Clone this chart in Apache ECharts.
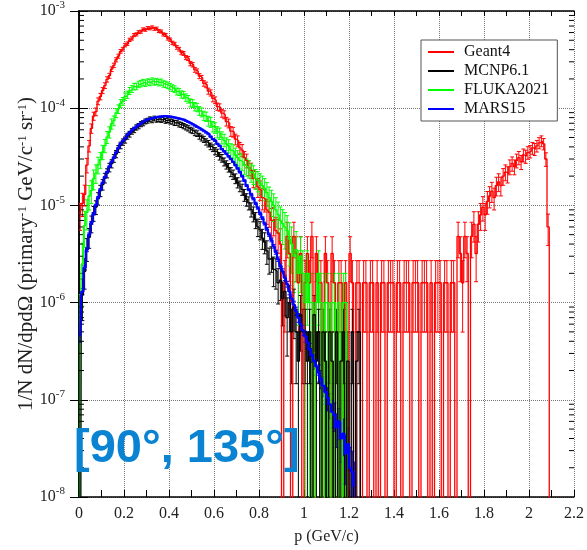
<!DOCTYPE html>
<html>
<head>
<meta charset="utf-8">
<script src="https://cdn.jsdelivr.net/npm/echarts@6/dist/echarts.min.js"></script>
<style>
html, body { margin: 0; padding: 0; background: #fff; }
#main { width: 587px; height: 550px; }
</style>
</head>
<body>
<div id="main"></div>
<script>
// spectra, in units of 1e-6, bins of 0.01 GeV/c starting at p = 0
var geant4 = [
  8, 10.5, 13, 26, 41, 62, 83, 92, 118, 132,
  152, 171, 198, 216, 252, 276, 315, 343, 385, 405,
  446, 462, 505, 522, 566, 575, 606, 612, 648, 641,
  668, 662, 680, 655, 660, 622, 615, 575, 566, 522,
  508, 470, 458, 422, 405, 372, 366, 332, 325, 288,
  280, 248, 240, 214, 205, 180, 174, 150, 144, 126,
  121, 104, 102, 89, 86, 73, 70, 58, 57, 48,
  46, 39, 37, 31, 29, 24.5, 23, 19, 18.5, 15.5,
  14.5, 12, 11.5, 9, 8.5, 7, 7.2, 5.5, 5.2, 4,
  0, 1.6, 4.8, 3.2, 0, 4.8, 3.2, 1.6, 3.2, 0,
  1.6, 3.2, 1.6, 4.8, 0, 3.2, 1.6, 1.6, 0, 3.2,
  1.6, 0, 3.2, 1.6, 0, 1.6, 1.6, 0, 1.6, 0,
  3.2, 1.6, 0, 1.6, 1.6, 0, 1.6, 1.6, 0, 1.6,
  1.6, 0, 1.6, 0, 1.6, 1.6, 0, 1.6, 1.6, 1.6,
  0, 1.6, 1.6, 0, 1.6, 1.6, 1.6, 0, 1.6, 1.6,
  1.6, 0, 1.6, 1.6, 1.6, 0, 1.6, 0, 1.6, 1.6,
  1.6, 0, 1.6, 1.6, 0, 1.6, 1.6, 0, 4.8, 3.2,
  1.6, 4.8, 3.2, 0, 4.8, 6.4, 3.2, 6.4, 8, 9.6,
  8, 11, 12.5, 14, 12, 16, 17.5, 16, 20, 22,
  21, 25, 27, 25, 29, 31, 28, 33, 32, 35,
  36, 39, 38, 41, 44, 46, 43, 30, 6, 0
];
var mcnp = [
  0, 1.2, 2.1, 3.6, 4.7, 6.5, 8.3, 9.6, 11.8, 14.2,
  16.4, 19.2, 21.5, 24.6, 26.9, 30.5, 33.8, 38.2, 41.5, 44.9,
  47.2, 51.6, 54.1, 57.8, 59.9, 63.5, 65.4, 68.6, 70.1, 73.2,
  74.5, 77, 75.2, 78.4, 76.1, 77.5, 75.8, 76.9, 74.2, 75.6,
  73.1, 72.8, 70.5, 70.9, 68.2, 67.4, 65.5, 63.7, 62.1, 59.8,
  58.6, 55.9, 54.8, 51.6, 49.5, 47.9, 45.1, 43.2, 40.6, 38.9,
  36.2, 34.9, 32.1, 30.6, 28.1, 26.2, 24.5, 22.1, 20.8, 18.9,
  17.2, 15.8, 14.6, 12.8, 11.5, 10.6, 9.1, 8.2, 7.1, 6.0,
  5.6, 4.6, 4.2, 3.4, 2.8, 2.9, 2.2, 2.1, 1.6, 1.7,
  1.1, 1.3, 0.7, 1.0, 0.5, 0.9, 0.5, 0.25, 0.75, 0.5,
  0.5, 0.25, 0.5, 0, 0.75, 0.25, 0.5, 0, 0.5, 0.25,
  0, 0.5, 0.25, 0, 0.5, 0, 0.25, 0.5, 0, 0.25,
  0, 0.5, 0, 0.25, 0.5, 0
];
var fluka = [
  0.5, 2.5, 6.2, 8.5, 12.5, 14.2, 18.8, 21.5, 26.2, 29.5,
  35.5, 41.2, 50.5, 56.8, 69.2, 74.5, 89.5, 98.2, 112, 118,
  132, 138, 151, 158, 167, 168, 176, 179, 184, 181,
  187, 184, 191, 186, 189, 183, 186, 178, 176, 172,
  167, 161, 157, 149, 147, 139, 137, 129, 124, 114,
  112, 104, 102, 94, 91, 84, 82, 74, 72, 65,
  63, 57, 55, 50, 47, 43, 41, 37, 36, 33,
  31, 29, 28, 26, 25, 24, 22, 21, 19, 18,
  17, 16, 15, 13.5, 12, 11, 10, 9, 8, 7,
  6.5, 6, 5.5, 4.5, 4, 3, 3.5, 2, 3, 2,
  1, 2, 1, 1, 0, 1, 2, 1, 0, 1,
  1, 0, 1, 1, 0, 1, 0, 1, 1, 0
];
var mars = [
  0.45, 1.3, 2.3, 3.5, 5.0, 6.6, 8.2, 10, 12, 14.5,
  17, 19.5, 22, 25, 28, 31, 35, 39, 43, 46,
  49, 53, 56, 59, 62, 65, 68, 70, 73, 75,
  77, 78, 79, 80, 81, 82, 82, 83, 83, 82,
  82, 81, 80, 79, 78, 77, 76, 74, 72, 70,
  68, 66, 64, 62, 60, 58, 56, 54, 51, 48,
  46, 43, 41, 38, 36, 34, 32, 30, 28, 26,
  24, 22, 20, 18, 16, 14.5, 13, 11.7, 10.5, 9.4,
  8.3, 7.4, 6.5, 5.7, 5.0, 4.4, 3.8, 3.3, 2.8, 2.4,
  2.1, 1.8, 1.55, 1.3, 1.1, 0.95, 0.82, 0.7, 0.6, 0.52,
  0.45, 0.39, 0.33, 0.29, 0.25, 0.22, 0.19, 0.165, 0.14, 0.12,
  0.105, 0.09, 0.075, 0.07, 0.052, 0.06, 0.04, 0.045, 0.028, 0.035,
  0.02, 0.018, 0.013
];
// statistical error bar: err = sqrt(errUnit * value), same units
var errUnit = { geant4: 0.76, mcnp: 0.25, fluka: 1.0, mars: 0.0075 };
var names = ['Geant4', 'MCNP6.1', 'FLUKA2021', 'MARS15'];
var colors = ['#ff0000', '#000000', '#00ff00', '#0000ff'];

var unit = 1e-6;
var binWidth = 0.01;
var serif = '"Liberation Serif", "DejaVu Serif", serif';

function steps(arr) {
  return arr.map(function (v, i) {
    return [binWidth / 2 + i * binWidth, v > 0 ? v * unit : 1e-12];
  });
}
function errs(arr, eu) {
  var out = [];
  arr.forEach(function (v, i) {
    if (v <= 0) return;
    var e = Math.sqrt(eu * v);
    var lo = v - e > 0 ? (v - e) * unit : 1e-12;
    out.push([binWidth / 2 + i * binWidth, lo, (v + e) * unit]);
  });
  return out;
}
function errRender(params, api) {
  var x = api.value(0);
  var lo = api.coord([x, api.value(1)]);
  var hi = api.coord([x, api.value(2)]);
  var c = api.visual('color');
  var st = { stroke: c, lineWidth: 1 };
  return {
    type: 'group',
    children: [
      { type: 'line', shape: { x1: lo[0], y1: lo[1], x2: hi[0], y2: hi[1] }, style: st },
      { type: 'line', shape: { x1: hi[0] - 2, y1: hi[1], x2: hi[0] + 2, y2: hi[1] }, style: st },
      { type: 'line', shape: { x1: lo[0] - 2, y1: lo[1], x2: lo[0] + 2, y2: lo[1] }, style: st }
    ]
  };
}

// minor ticks of the log axis (2..9 per decade)
var minorVals = [];
for (var k = -8; k < -3; k++) {
  for (var m = 2; m <= 9; m++) minorVals.push([0, m * Math.pow(10, k)]);
}

var sets = [
  { name: names[0], data: geant4, eu: errUnit.geant4, color: colors[0], w: 1.3 },
  { name: names[2], data: fluka, eu: errUnit.fluka, color: colors[2], w: 1.3 },
  { name: names[1], data: mcnp, eu: errUnit.mcnp, color: colors[1], w: 1.3 },
  { name: names[3], data: mars, eu: errUnit.mars, color: colors[3], w: 2.2 }
];
var series = [];
sets.forEach(function (s) {
  series.push({
    name: s.name, type: 'line', step: 'middle', symbol: 'none',
    data: steps(s.data), clip: true,
    lineStyle: { color: s.color, width: s.w }, itemStyle: { color: s.color },
    emphasis: { disabled: true }, animation: false
  });
  series.push({
    name: s.name + '_err', type: 'custom', renderItem: errRender,
    data: errs(s.data, s.eu), clip: true, silent: true,
    encode: { x: 0, y: [1, 2] },
    itemStyle: { color: s.color }, animation: false
  });
});
series.push({
  type: 'custom', silent: true, animation: false,
  data: minorVals, encode: { x: 0, y: 1 },
  renderItem: function (params, api) {
    var p = api.coord([0, api.value(1)]);
    var cs = params.coordSys;
    var st = { stroke: '#000', lineWidth: 1 };
    return {
      type: 'group', children: [
        { type: 'line', shape: { x1: cs.x, y1: p[1], x2: cs.x + 5, y2: p[1] }, style: st },
        { type: 'line', shape: { x1: cs.x + cs.width - 5, y1: p[1], x2: cs.x + cs.width, y2: p[1] }, style: st }
      ]
    };
  }
});

var axisLine = { show: true, lineStyle: { color: '#000', width: 1.5 } };
var gridLine = { show: true, lineStyle: { color: '#777', type: 'dotted', width: 1 } };
// thin line icon, with two tiny corner dots so it keeps a 26x14 box
var lineIcon = 'path://M0,0h0.1v0.1h-0.1z M0,6h26v2h-26z M25.9,13.9h0.1v0.1h-0.1z';

var chart = echarts.init(document.getElementById('main'));
chart.setOption({
  animation: false,
  grid: { left: 79, right: 10, top: 11, bottom: 43 },
  legend: {
    data: names.map(function (n) { return { name: n, icon: lineIcon }; }),
    orient: 'vertical', left: 421, top: 40,
    backgroundColor: '#fff', borderColor: '#555', borderWidth: 1,
    padding: [4, 8, 4, 7], itemGap: 3, itemWidth: 26, itemHeight: 14,
    textStyle: { fontFamily: serif, fontSize: 16, color: '#111', padding: [0, 0, 0, 5] },
    selectedMode: false
  },
  xAxis: [{
    type: 'value', min: 0, max: 2.2, interval: 0.2, position: 'bottom',
    name: 'p (GeV/c)', nameLocation: 'middle', nameGap: 32,
    nameTextStyle: { fontFamily: serif, fontSize: 16, color: '#222' },
    axisLine: axisLine,
    axisTick: { show: true, inside: true, length: 7, lineStyle: { color: '#000' } },
    minorTick: { show: true, splitNumber: 2, length: 7, lineStyle: { color: '#000' } },
    splitLine: gridLine,
    axisLabel: { fontFamily: serif, fontSize: 16, color: '#222', margin: 9 }
  }, {
    type: 'value', min: 0, max: 2.2, interval: 0.2, position: 'top',
    axisLine: axisLine,
    axisTick: { show: true, inside: true, length: 5, lineStyle: { color: '#000' } },
    minorTick: { show: true, splitNumber: 2, length: 5, lineStyle: { color: '#000' } },
    splitLine: { show: false }, axisLabel: { show: false }
  }],
  yAxis: [{
    type: 'log', logBase: 10, min: 1e-8, max: 1e-3, splitNumber: 5, position: 'left',
    name: '1/N dN/dpdΩ (primary{s|-1} GeV/c{s|-1} sr{s|-1})',
    nameLocation: 'middle', nameGap: 42, nameRotate: 90, nameMoveOverlap: false,
    nameTextStyle: {
      fontFamily: serif, fontSize: 21, color: '#222',
      rich: { s: { fontFamily: serif, fontSize: 13, color: '#222', verticalAlign: 'top', padding: [0, 0, 8, 0] } }
    },
    axisLine: axisLine,
    axisTick: { show: true, inside: true, length: 9, lineStyle: { color: '#000' } },
    splitLine: gridLine,
    axisLabel: {
      margin: 14,
      formatter: function (v) {
        var e = Math.round(Math.log(v) / Math.LN10);
        return '{b|10}{s|' + e + '}';
      },
      rich: {
        b: { fontFamily: serif, fontSize: 16, color: '#222', lineHeight: 22 },
        s: { fontFamily: serif, fontSize: 11, color: '#222', verticalAlign: 'top', lineHeight: 12 }
      }
    }
  }, {
    type: 'log', logBase: 10, min: 1e-8, max: 1e-3, splitNumber: 5, position: 'right',
    axisLine: axisLine,
    axisTick: { show: true, inside: true, length: 9, lineStyle: { color: '#000' } },
    splitLine: { show: false }, axisLabel: { show: false }
  }],
  graphic: [{
    type: 'text', left: 74, top: 426, z: 100,
    style: { text: '[90°, 135°]', font: 'bold 47px "Liberation Sans", Arial, sans-serif', fill: '#0a84d2' }
  }],
  series: series
});
</script>
</body>
</html>
